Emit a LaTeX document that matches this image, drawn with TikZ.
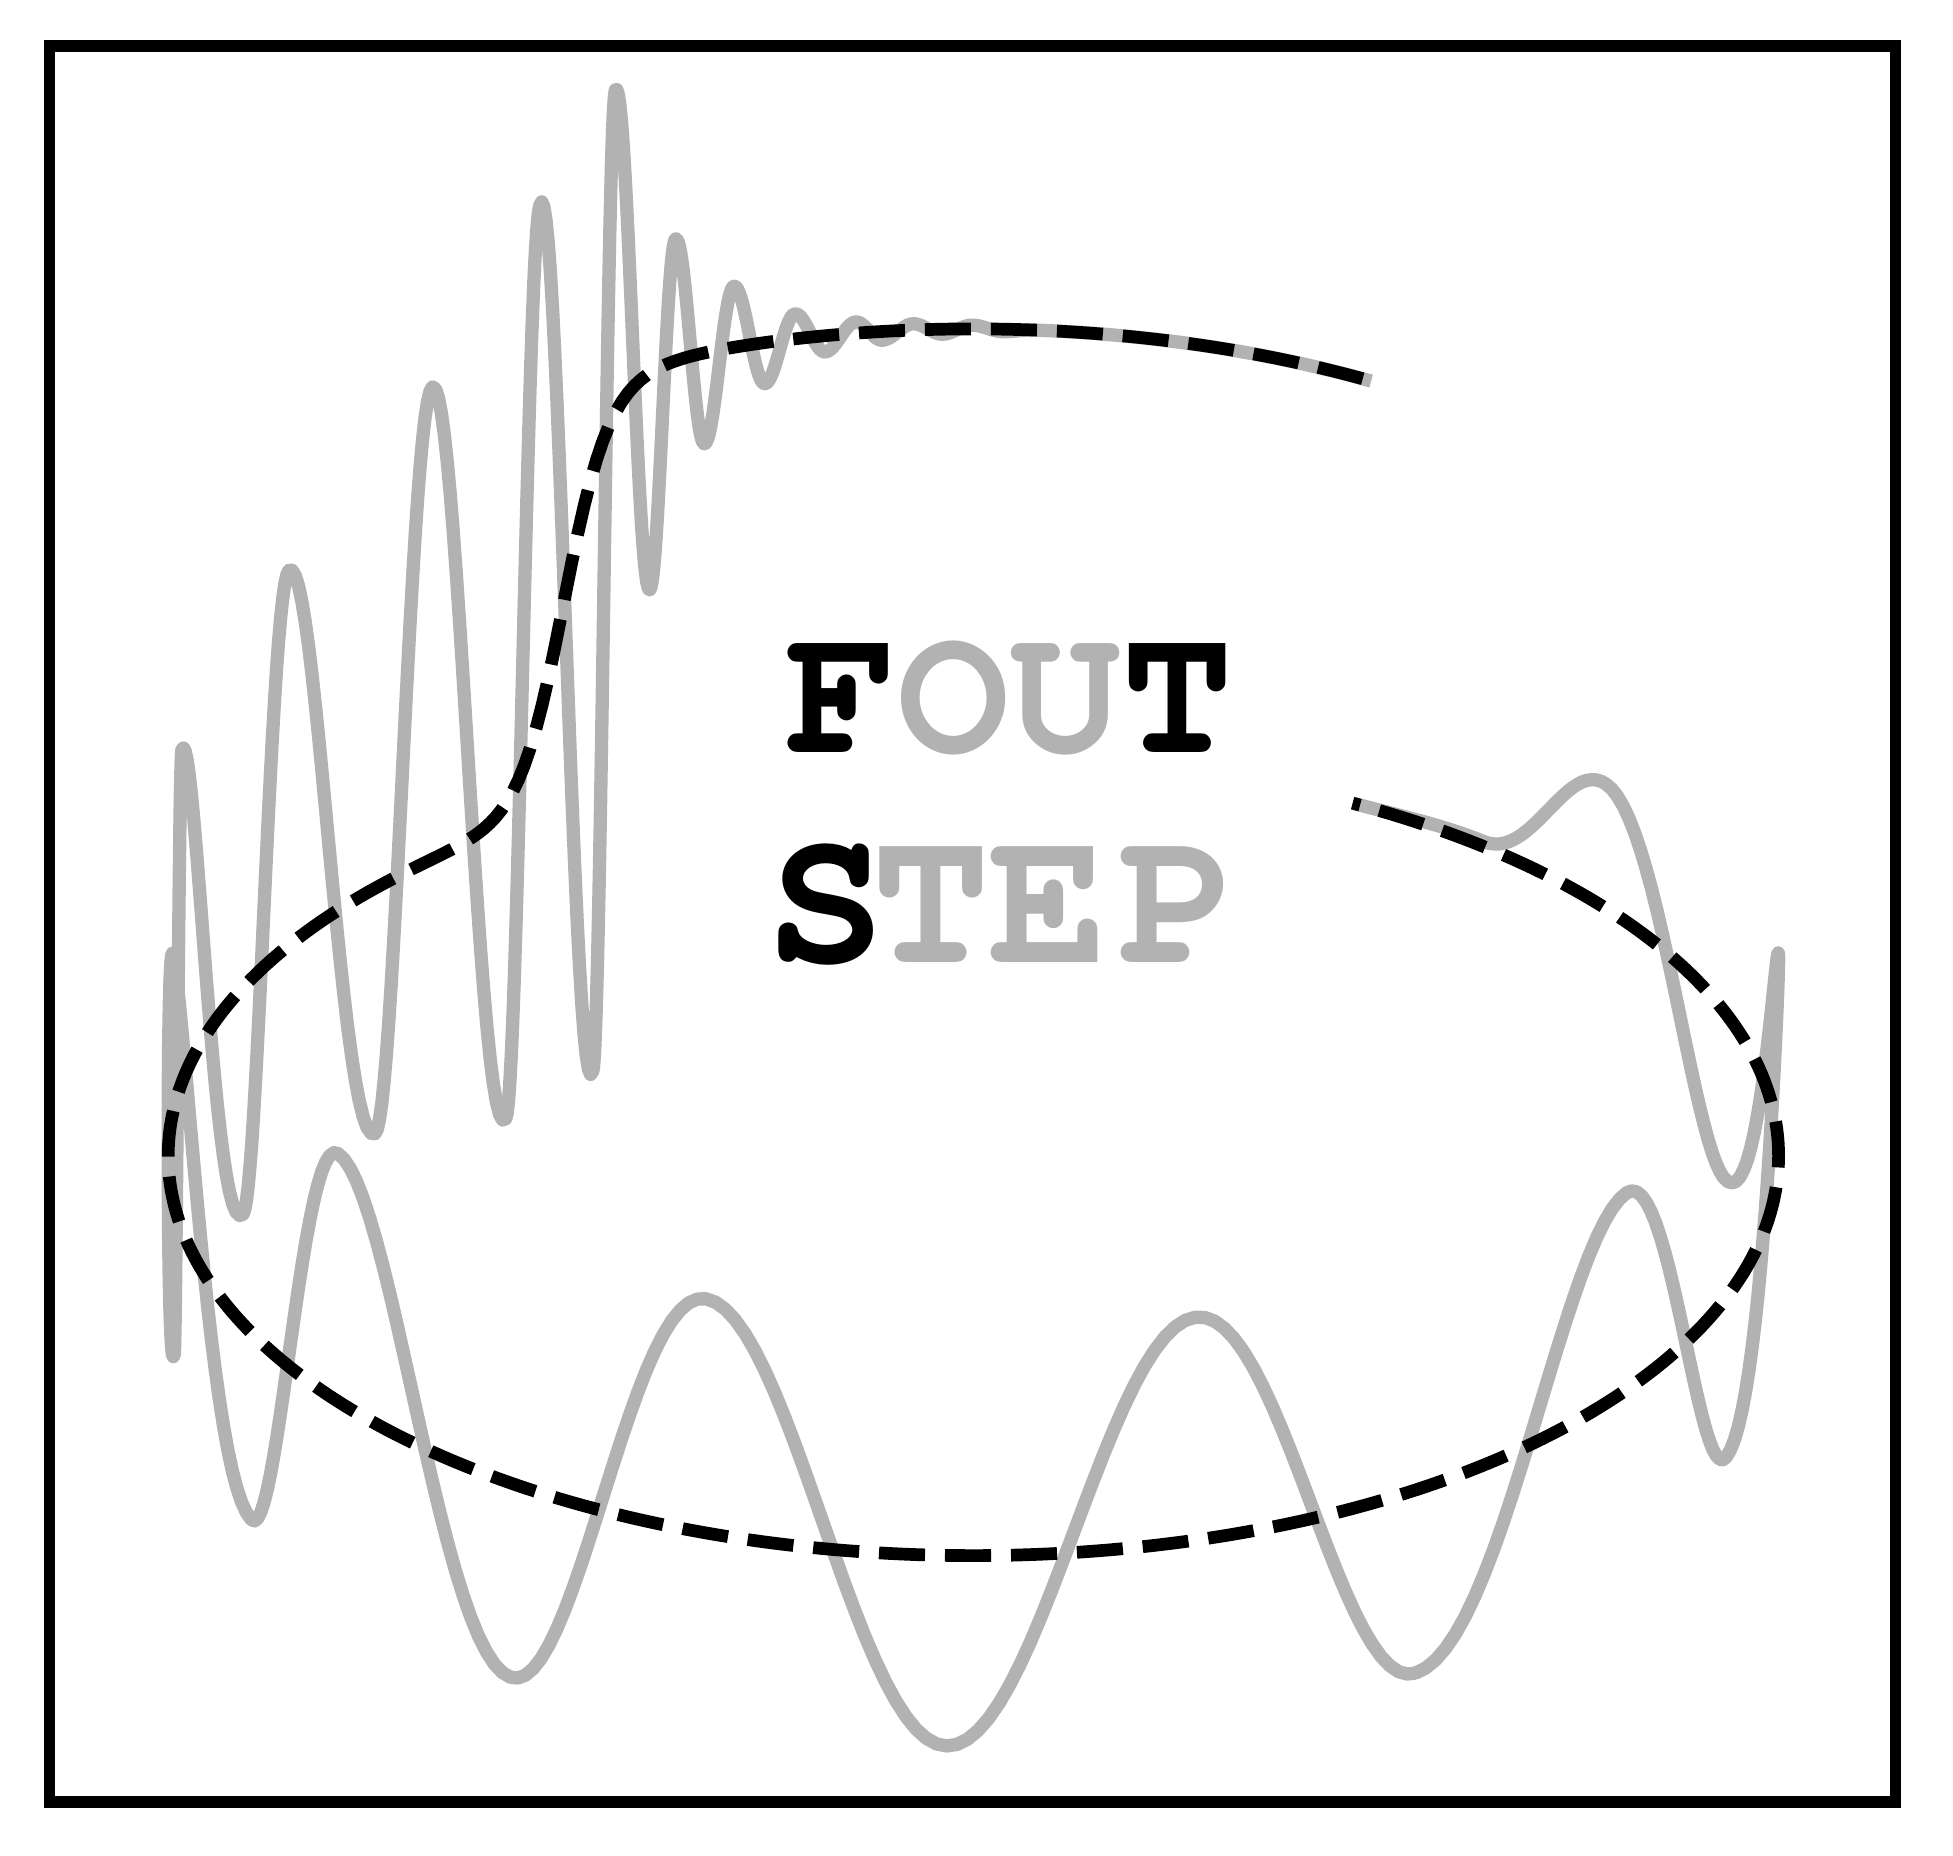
\documentclass[tikz,border=0pt]{standalone}
\usepackage[T1,TU]{fontenc}
\definecolor{wavegray}{gray}{0.7}
\usetikzlibrary{positioning}

\begin{document}
\begin{tikzpicture}[x=0.1mm,y=-0.1mm,
    outline/.style={draw,line width=0.94mm},
    wave/.style={draw=wavegray,line width=1.07mm,line join=round},
    track/.style={draw,line width=1.02mm,dash pattern=on 3.7mm off 1.6mm,dash phase=4.6mm},
    word/.style={inner sep=0pt,font=\fontencoding{T1}\fontfamily{pcr}\fontseries{b}\fontsize{42.7pt}{47pt}\selectfont},
    bigword/.style={word,font=\fontencoding{T1}\fontfamily{pcr}\fontseries{b}\fontsize{45.4pt}{50pt}\selectfont},
    node distance=16.6mm,
    declare function={rise(\u)=343/(1+exp(max(-9,min(9,(\u-120.5)/1.85))));}
    ]
    \useasboundingbox (0,0) rectangle (1568,1490);

    \coordinate (wavehead) at ({781.5+646.5*cos(60.4)},{928-321*sin(60.4)-rise(60.4)});

    % the ringing wave
    \draw[wave] (wavehead)
      \foreach \tb/\db [remember=\tb as \ta (initially 60.4),remember=\db as \da (initially 0)] in
      {85.6/0,87.9/2,90.1/-3,92.2/4,94.3/-5,96.5/7,98.4/-9,100.6/13,102.8/-20,
       105.0/33,107.3/-49,109.5/73,111.7/-98,113.7/174,116.4/-259,118.2/481,
       122.6/-409,125.5/253,132.2/-379,138.0/197,148.2/-301,155.1/182,169.4/-267,
       173.0/199,186.4/-197,206.3/150,217.9/-199,234.9/156,250.6/-188,268.1/153,
       286.0/-179,303.3/147,324.2/-158,339.2/128,360.0/-158,381.3/134,398.3/-100,
       410.7/-4,421.9/0}
      { -- plot[variable=\t,domain=\ta:\tb,samples=25]
          ({781.5+646.5*cos(\t)},{928-321*sin(\t)-rise(\t)+(\da)+((\db)-(\da))*(1-cos(180*(\t-\ta)/(\tb-\ta)))/2}) };

    % the step path
    \draw[track] plot[variable=\t,domain=60.4:421.9,samples=724]
      ({781.5+646.5*cos(\t)},{928-321*sin(\t)-rise(\t)});

    % the words
    \node[word] (fout) at (810.5,561) {F\textcolor{wavegray}{OU}T};
    \node[bigword,below of=fout,xshift=-0.6mm] (step) {S\kern-1.1mm\textcolor{wavegray}{T\kern-0.2mm E\kern0.9mm P}};

    % the frame
    \draw[outline] (39.7,36.8) rectangle (1521.9,1446.5);
\end{tikzpicture}
\end{document}
